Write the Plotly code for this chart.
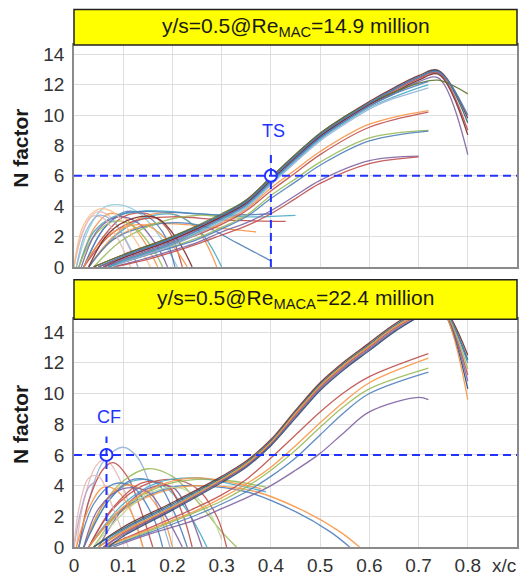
import plotly.graph_objects as go

# ---------------- DATA ----------------
top_title = "y/s=0.5@Re<sub>MAC</sub>=14.9 million"
bot_title = "y/s=0.5@Re<sub>MACA</sub>=22.4 million"

x_ticks = [0, 0.1, 0.2, 0.3, 0.4, 0.5, 0.6, 0.7, 0.8]
x_tick_text = ["0", "0.1", "0.2", "0.3", "0.4", "0.5", "0.6", "0.7", "0.8"]
y_ticks = [0, 2, 4, 6, 8, 10, 12, 14]

n_crit = 6.0          # transition N factor
ts_x = 0.4            # TS transition location (top)
cf_x = 0.066          # CF transition location (bottom)

# Top panel: TS envelopes reaching N ~ 12-13
xa_th = [0.10, 0.20, 0.30, 0.35, 0.40, 0.45, 0.50, 0.55, 0.60, 0.65, 0.70, 0.74, 0.80]
xb_th = [0.10, 0.20, 0.30, 0.35, 0.40, 0.45, 0.50, 0.55, 0.60, 0.65, 0.70, 0.72]
top_ts_high = [
    ([0.04] + xa_th, [0, 0.8, 2.0, 3.4, 4.4, 5.9, 7.4, 8.8, 9.9, 10.9, 11.8, 12.6, 12.95, 9.8]),
    ([0.05] + xa_th, [0, 0.7, 1.9, 3.4, 4.3, 5.8, 7.3, 8.7, 9.8, 10.8, 11.7, 12.5, 12.9, 9.5]),
    ([0.05] + xa_th, [0, 0.6, 1.8, 3.3, 4.2, 5.7, 7.2, 8.6, 9.7, 10.7, 11.6, 12.4, 12.8, 9.0]),
    ([0.06] + xa_th, [0, 0.6, 1.8, 3.3, 4.2, 5.7, 7.2, 8.6, 9.7, 10.7, 11.5, 12.3, 12.7, 8.7]),
    ([0.06] + xa_th, [0, 0.5, 1.7, 3.2, 4.1, 5.6, 7.1, 8.5, 9.6, 10.6, 11.4, 12.2, 12.45, 7.4]),
    ([0.04] + xa_th, [0, 0.8, 2.0, 3.5, 4.4, 5.9, 7.4, 8.8, 9.9, 10.8, 11.5, 12.1, 12.3, 11.4]),
    ([0.05] + xa_th, [0, 0.7, 1.9, 3.4, 4.3, 5.8, 7.3, 8.7, 9.8, 10.8, 11.7, 12.5, 12.85, 10.0]),
    ([0.07] + xb_th, [0, 0.4, 1.6, 3.2, 4.1, 5.6, 7.1, 8.5, 9.6, 10.6, 11.4, 12.0, 12.2]),
    ([0.07] + xb_th, [0, 0.4, 1.5, 3.1, 4.0, 5.5, 7.0, 8.4, 9.5, 10.5, 11.2, 11.8, 12.0]),
    ([0.08] + xb_th, [0, 0.3, 1.4, 3.0, 3.9, 5.4, 6.9, 8.3, 9.4, 10.4, 11.1, 11.6, 11.8]),
]
# Top panel: lower TS envelopes
top_ts_low = [
    ([0.06, 0.15, 0.25, 0.30, 0.35, 0.40, 0.45, 0.50, 0.60, 0.72], [0, 1.0, 2.2, 2.9, 3.8, 5.2, 6.4, 7.6, 9.4, 10.3]),
    ([0.06, 0.15, 0.25, 0.30, 0.35, 0.40, 0.45, 0.50, 0.60, 0.72], [0, 0.9, 2.1, 2.8, 3.7, 5.0, 6.2, 7.4, 9.2, 10.2]),
    ([0.07, 0.15, 0.25, 0.30, 0.35, 0.40, 0.45, 0.50, 0.60, 0.72], [0, 0.8, 1.9, 2.6, 3.4, 4.7, 5.8, 6.9, 8.5, 9.0]),
    ([0.07, 0.15, 0.25, 0.30, 0.35, 0.40, 0.45, 0.50, 0.60, 0.72], [0, 0.8, 1.8, 2.5, 3.3, 4.5, 5.6, 6.7, 8.3, 8.95]),
    ([0.08, 0.15, 0.25, 0.30, 0.35, 0.40, 0.45, 0.50, 0.60, 0.70], [0, 0.6, 1.6, 2.3, 2.9, 3.7, 4.7, 5.7, 7.0, 7.3]),
    ([0.08, 0.15, 0.25, 0.30, 0.35, 0.40, 0.45, 0.50, 0.60, 0.70], [0, 0.5, 1.5, 2.1, 2.7, 3.5, 4.5, 5.5, 6.8, 7.25]),
]
# Top panel: crossflow-type envelopes
top_cf = [
    ([0.005, 0.03, 0.06, 0.09, 0.13, 0.17, 0.21], [0, 2.5, 3.9, 4.1, 3.6, 2.2, 0]),
    ([0.0, 0.02, 0.045, 0.07, 0.10, 0.13], [0, 2.5, 3.6, 3.4, 2.0, 0]),
    ([0.01, 0.04, 0.07, 0.10, 0.14, 0.17], [0, 2.5, 3.5, 3.3, 1.8, 0]),
    ([0.02, 0.06, 0.10, 0.15, 0.19, 0.22], [0, 2.0, 3.3, 3.5, 2.5, 0]),
    ([0.02, 0.06, 0.10, 0.14, 0.18, 0.205], [0, 2.5, 3.6, 3.5, 2.3, 0]),
    ([0.03, 0.08, 0.14, 0.20, 0.25, 0.29], [0, 2.0, 3.3, 3.5, 2.5, 0]),
    ([0.03, 0.09, 0.15, 0.21, 0.26, 0.30], [0, 2.2, 3.3, 3.4, 2.2, 0]),
    ([0.01, 0.04, 0.08, 0.15, 0.25, 0.35, 0.45], [0, 2.3, 3.3, 3.7, 3.5, 3.3, 3.4]),
    ([0.02, 0.06, 0.10, 0.20, 0.30, 0.40], [0, 2.5, 3.5, 3.6, 3.4, 3.5]),
    ([0.02, 0.07, 0.12, 0.20, 0.30, 0.43], [0, 2.0, 3.0, 3.3, 3.1, 3.0]),
    ([0.03, 0.08, 0.15, 0.22, 0.28, 0.37], [0, 1.8, 2.8, 2.8, 2.6, 2.3]),
    ([0.03, 0.08, 0.15, 0.22, 0.27, 0.33, 0.40], [0, 1.8, 2.7, 2.9, 2.6, 1.6, 0.4]),
    ([0.01, 0.04, 0.08, 0.12, 0.16, 0.18], [0, 2.0, 3.0, 2.7, 1.2, 0]),
    ([0.015, 0.05, 0.09, 0.13, 0.17, 0.19], [0, 2.5, 3.3, 2.9, 1.3, 0]),
    ([0.0, 0.015, 0.035, 0.06, 0.09, 0.115], [0, 2.0, 3.3, 3.2, 1.8, 0]),
    ([0.005, 0.025, 0.05, 0.08, 0.11, 0.13], [0, 2.4, 3.4, 3.0, 1.5, 0]),
    ([0.02, 0.05, 0.10, 0.15, 0.20, 0.23], [0, 1.5, 2.6, 2.7, 1.4, 0]),
    ([0.04, 0.10, 0.18, 0.25, 0.30, 0.34], [0, 1.8, 3.0, 3.4, 3.3, 3.2]),
    ([0.0, 0.02, 0.05, 0.08, 0.12, 0.155], [0, 2.8, 3.8, 3.6, 2.0, 0]),
    ([0.03, 0.07, 0.12, 0.17, 0.21, 0.24], [0, 2.2, 3.2, 3.2, 1.8, 0]),
]

# Bottom panel: TS envelopes leaving the top of the frame
xa_bh = [0.10, 0.20, 0.30, 0.35, 0.40, 0.45, 0.50, 0.55, 0.60, 0.65, 0.70, 0.74, 0.80]
bot_ts_high = [
    ([0.04] + xa_bh, [0, 1.3, 2.9, 4.6, 5.6, 7.0, 8.9, 10.7, 12.1, 13.3, 14.5, 15.4, 15.9, 12.5]),
    ([0.04] + xa_bh, [0, 1.2, 2.8, 4.5, 5.5, 6.9, 8.8, 10.6, 12.0, 13.2, 14.4, 15.3, 15.8, 12.2]),
    ([0.05] + xa_bh, [0, 1.1, 2.7, 4.4, 5.4, 6.8, 8.7, 10.5, 11.9, 13.1, 14.3, 15.2, 15.8, 12.0]),
    ([0.05] + xa_bh, [0, 1.0, 2.6, 4.4, 5.4, 6.8, 8.7, 10.5, 11.9, 13.1, 14.3, 15.2, 15.8, 11.6]),
    ([0.06] + xa_bh, [0, 0.9, 2.5, 4.3, 5.3, 6.7, 8.6, 10.4, 11.8, 13.0, 14.2, 15.1, 15.7, 11.2]),
    ([0.06] + xa_bh, [0, 0.8, 2.5, 4.3, 5.3, 6.7, 8.5, 10.3, 11.7, 12.9, 14.1, 15.0, 15.7, 10.8]),
    ([0.07] + xa_bh, [0, 0.7, 2.4, 4.2, 5.2, 6.6, 8.4, 10.2, 11.6, 12.8, 14.0, 15.0, 15.7, 10.3]),
    ([0.05] + xa_bh, [0, 1.0, 2.6, 4.4, 5.4, 6.8, 8.7, 10.5, 11.9, 13.1, 14.3, 15.2, 15.8, 9.6]),
]
bot_ts_low = [
    ([0.06, 0.15, 0.25, 0.30, 0.35, 0.40, 0.45, 0.50, 0.55, 0.60, 0.72], [0, 1.2, 2.6, 3.4, 4.4, 5.8, 7.3, 8.8, 10.1, 11.1, 12.6]),
    ([0.06, 0.15, 0.25, 0.30, 0.35, 0.40, 0.45, 0.50, 0.55, 0.60, 0.72], [0, 1.1, 2.4, 3.2, 4.1, 5.2, 6.6, 8.1, 9.5, 10.7, 12.3]),
    ([0.07, 0.15, 0.25, 0.30, 0.35, 0.40, 0.45, 0.50, 0.55, 0.60, 0.72], [0, 1.0, 2.3, 3.0, 3.9, 5.0, 6.3, 7.8, 9.2, 10.3, 11.65]),
    ([0.07, 0.15, 0.25, 0.30, 0.35, 0.40, 0.45, 0.50, 0.55, 0.60, 0.72], [0, 0.9, 2.1, 2.8, 3.6, 4.6, 5.8, 7.3, 8.8, 10.0, 11.4]),
    ([0.08, 0.15, 0.25, 0.30, 0.35, 0.40, 0.45, 0.50, 0.55, 0.60, 0.70, 0.72], [0, 0.8, 1.8, 2.5, 3.2, 4.0, 5.0, 6.1, 7.5, 8.8, 9.75, 9.6]),
]
bot_cf = [
    ([0.01, 0.03, 0.06, 0.10, 0.13, 0.16, 0.195], [0, 3.0, 5.6, 6.5, 5.8, 3.5, 0]),
    ([0.005, 0.02, 0.045, 0.065, 0.09, 0.12, 0.14], [0, 3.0, 5.3, 5.7, 4.6, 2.0, 0]),
    ([0.01, 0.03, 0.06, 0.08, 0.11, 0.14, 0.16], [0, 3.0, 5.1, 5.5, 4.5, 2.0, 0]),
    ([0.0, 0.015, 0.03, 0.045], [0, 2.5, 3.9, 4.3]),
    ([0.02, 0.06, 0.10, 0.15, 0.20, 0.25, 0.30, 0.33], [0, 2.8, 4.3, 5.1, 4.6, 3.0, 1.0, 0]),
    ([0.03, 0.08, 0.14, 0.20, 0.25, 0.29, 0.31], [0, 2.5, 4.0, 4.4, 3.8, 2.0, 0]),
    ([0.02, 0.07, 0.12, 0.17, 0.22, 0.27], [0, 3.0, 4.3, 4.2, 2.8, 0]),
    ([0.03, 0.10, 0.20, 0.25, 0.35, 0.45, 0.52, 0.56], [0, 2.5, 3.9, 4.0, 3.6, 2.3, 1.0, 0]),
    ([0.03, 0.10, 0.20, 0.27, 0.37, 0.47, 0.54, 0.58], [0, 2.4, 3.8, 4.0, 3.6, 2.3, 1.0, 0]),
    ([0.04, 0.10, 0.18, 0.25, 0.32, 0.39], [0, 2.5, 4.0, 4.4, 4.3, 3.9]),
    ([0.03, 0.10, 0.17, 0.25, 0.32, 0.39], [0, 2.8, 4.2, 4.5, 4.1, 3.6]),
    ([0.05, 0.10, 0.15, 0.20, 0.23, 0.26], [0, 2.5, 3.8, 3.9, 2.5, 0]),
    ([0.005, 0.03, 0.06, 0.09, 0.12, 0.14], [0, 2.5, 3.9, 3.6, 2.0, 0]),
    ([0.01, 0.04, 0.08, 0.12, 0.16, 0.18], [0, 2.8, 4.1, 3.9, 2.0, 0]),
    ([0.02, 0.06, 0.10, 0.14, 0.18, 0.20], [0, 2.8, 4.0, 3.7, 2.0, 0]),
    ([0.02, 0.07, 0.12, 0.17, 0.20, 0.23], [0, 3.0, 4.4, 4.1, 2.5, 0]),
    ([0.03, 0.08, 0.14, 0.19, 0.22, 0.24], [0, 2.6, 4.2, 4.0, 2.2, 0]),
    ([0.0, 0.01, 0.03, 0.05, 0.08, 0.11], [0, 2.5, 4.5, 4.6, 2.5, 0]),
    ([0.03, 0.10, 0.18, 0.25, 0.32, 0.38], [0, 2.6, 4.1, 4.5, 4.2, 3.8]),
    ([0.04, 0.10, 0.16, 0.22, 0.27, 0.30], [0, 2.2, 3.6, 3.8, 2.5, 0.5]),
    ([0.02, 0.05, 0.10, 0.15, 0.19, 0.22], [0, 2.5, 3.8, 3.6, 1.8, 0]),
]

# ---------------- STYLE ----------------
B, R, G, P, T, O = "#4F81BD", "#C0504D", "#9BBB59", "#8064A2", "#4BACC6", "#F79646"
DB, DR, DG, DP, DT, DO = "#2C4D75", "#772C2A", "#5F7530", "#4D3B62", "#276A7C", "#B65708"
LB, LR, LG, LP, LT, LO = "#95B3D7", "#E6B9B8", "#C3D69B", "#B3A2C7", "#93CDDD", "#FAC090"

top_ts_high_col = [DR, DT, R, DR, P, DG, B, B, T, LB]
top_ts_low_col = [O, R, G, B, P, R]
top_cf_col = [LT, LR, O, R, B, O, T, T, B, R, O, B, G, P, LR, LB, O, G, LO, DR]
bot_ts_high_col = [DR, DT, B, G, R, P, DB, O]
bot_ts_low_col = [R, O, G, B, P]
bot_cf_col = [LB, LR, R, LP, G, R, T, B, O, G, T, P, O, B, O, B, R, LR, O, LG, P]

LINE_BLUE = "#2233FF"
FONT = "Liberation Sans, Arial, sans-serif"

fig = go.Figure()


def add_group(curves, colors, xa, ya):
    for (xs, ns), c in zip(curves, colors):
        fig.add_trace(go.Scatter(
            x=xs, y=ns, mode="lines", xaxis=xa, yaxis=ya,
            line=dict(color=c, width=1.3, shape="spline", smoothing=1.0),
            opacity=0.9, showlegend=False, hoverinfo="skip"))


add_group(top_cf, top_cf_col, "x", "y")
add_group(top_ts_low, top_ts_low_col, "x", "y")
add_group(top_ts_high, top_ts_high_col, "x", "y")
add_group(bot_cf, bot_cf_col, "x2", "y2")
add_group(bot_ts_low, bot_ts_low_col, "x2", "y2")
add_group(bot_ts_high, bot_ts_high_col, "x2", "y2")

dash = "8px,5px"
for xa, ya, xt, top in (("x", "y", ts_x, 7.7), ("x2", "y2", cf_x, 7.2)):
    fig.add_shape(type="line", xref=xa + " domain", yref=ya, x0=0, x1=1, y0=n_crit, y1=n_crit,
                  line=dict(color=LINE_BLUE, width=2, dash=dash), layer="above")
    fig.add_shape(type="line", xref=xa, yref=ya, x0=xt, x1=xt, y0=0, y1=top,
                  line=dict(color=LINE_BLUE, width=2, dash=dash), layer="above")
    fig.add_trace(go.Scatter(x=[xt], y=[n_crit], xaxis=xa, yaxis=ya, mode="markers",
                             marker=dict(size=12, color="white", line=dict(color=LINE_BLUE, width=2)),
                             showlegend=False, hoverinfo="skip"))

fig.add_annotation(x=ts_x + 0.006, y=8.95, xref="x", yref="y", text="TS", showarrow=False,
                   font=dict(family=FONT, size=18, color=LINE_BLUE))
fig.add_annotation(x=cf_x + 0.006, y=8.45, xref="x2", yref="y2", text="CF", showarrow=False,
                   font=dict(family=FONT, size=18, color=LINE_BLUE))

# title boxes
top_dom = [0.558, 1.0]
bot_dom = [0.0, 0.454]
for y0, y1, txt in ((1.0, 1.0707, top_title), (0.4538, 0.5324, bot_title)):
    fig.add_shape(type="rect", xref="paper", yref="paper", x0=0, x1=1, y0=y0, y1=y1,
                  fillcolor="#FFFF00", line=dict(color="#222222", width=1.5), layer="above")
    fig.add_annotation(x=0.5, y=(y0 + y1) / 2, xref="paper", yref="paper", text=txt,
                       showarrow=False, xanchor="center", yanchor="middle",
                       font=dict(family=FONT, size=21, color="#1a1a1a"))

# y-axis titles
for yc in (0.794, 0.2436):
    fig.add_annotation(x=-0.121, y=yc, xref="paper", yref="paper", text="<b>N factor</b>",
                       textangle=-90, showarrow=False, xanchor="center", yanchor="middle",
                       font=dict(family=FONT, size=21, color="#1a1a1a"))
fig.add_annotation(x=0.971, y=-0.037, xref="paper", yref="paper", text="x/c", showarrow=False,
                   xanchor="center", yanchor="middle", font=dict(family=FONT, size=19, color="#333333"))

axis_common = dict(showline=True, mirror=True, linecolor="#8a8a8a", linewidth=1.5,
                   showgrid=True, gridcolor="#dedede", gridwidth=1, zeroline=False, ticks="",
                   tickfont=dict(family=FONT, size=19, color="#333333"))

fig.update_layout(
    width=531, height=588,
    margin=dict(l=74, r=12, t=45, b=34),
    paper_bgcolor="white", plot_bgcolor="white",
    showlegend=False,
    xaxis=dict(domain=[0, 1], anchor="y", range=[0, 0.9], tickvals=x_ticks, showticklabels=False, **axis_common),
    yaxis=dict(domain=top_dom, anchor="x", range=[0, 14.62], tickvals=y_ticks, ticklabelstandoff=4, **axis_common),
    xaxis2=dict(domain=[0, 1], anchor="y2", range=[0, 0.9], tickvals=x_ticks, ticktext=x_tick_text, **axis_common),
    yaxis2=dict(domain=bot_dom, anchor="x2", range=[0, 14.85], tickvals=y_ticks, ticklabelstandoff=4, **axis_common),
)

fig.write_html("out.html")
